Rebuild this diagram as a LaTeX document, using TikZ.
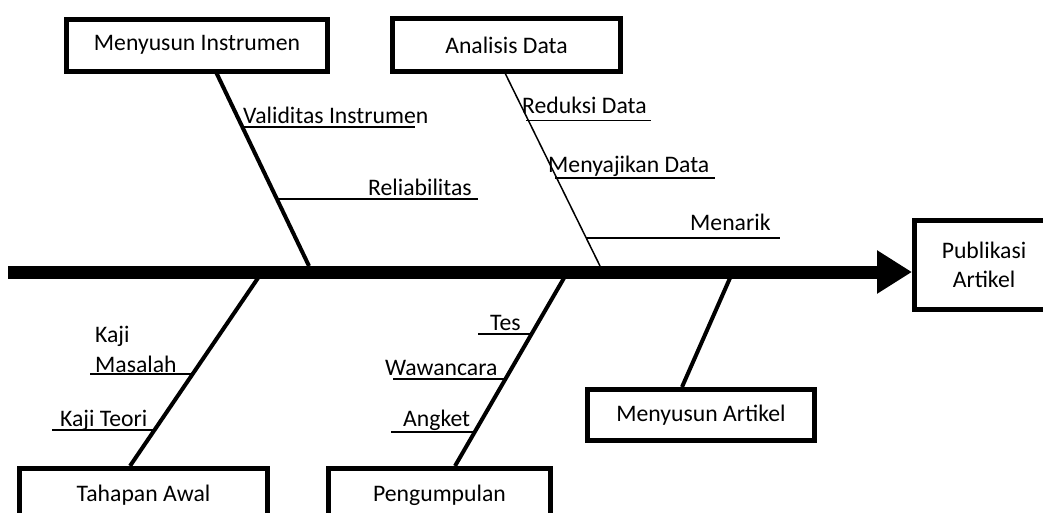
\documentclass[tikz,border=0pt]{standalone}
\usepackage{fontspec}
\setmainfont{Carlito}
\usetikzlibrary{arrows.meta, positioning, calc}
\tikzset{
x=1pt, y=-1pt,
every node/.style={font=\fontsize{23.7}{29}\selectfont},
box/.style={%
    rectangle,
    draw=black,
    line width=5pt,
    fill=white,
    inner sep=0pt,
    align=center
},
spine/.style={line width=13pt, -{Triangle[length=35pt,width=41pt]}},
bone/.style={line width=4pt},
thinbone/.style={line width=1.5pt},
twig/.style={line width=1.5pt},
lbl/.style={anchor=base west, inner sep=0pt},
}

\begin{document}
\begin{tikzpicture}
			\path[use as bounding box] (0,0) rectangle (1043,512);
			\clip (0,0) rectangle (1043,512);

			% boxes
			\node[box, minimum width=261pt, minimum height=52pt] (mi) at (197,45) {Menyusun Instrumen};
			\node[box, minimum width=228pt, minimum height=53pt] (ad) at (506.5,45) {Analisis Data};
			\node[box, minimum width=139pt, minimum height=89pt] (pa) at (984,265) {Publikasi\\Artikel};
			\node[box, minimum width=248pt, minimum height=53pt] (ta) at (143.5,495) {Tahapan Awal};
			\node[box, minimum width=222pt, minimum height=53pt] (pg) at (439.5,495) {Pengumpulan};
			\node[box, minimum width=227pt, minimum height=51pt] (ma) at (701,415) {Menyusun Artikel};

			% spine
			\coordinate (tail) at (8,272);
			\coordinate (head) at (912,272);
			\draw[spine] (tail) -- (head);

			% bones
			\coordinate (mi-b) at (216,72);   \coordinate (s1) at (309,266);
			\coordinate (ad-b) at (505,73);   \coordinate (s2) at (600,266);
			\coordinate (ta-b) at (130,466);  \coordinate (s3) at (258,278);
			\coordinate (pg-b) at (455,466);  \coordinate (s4) at (564,278);
			\coordinate (ma-b) at (682,387);  \coordinate (s5) at (730,278);
			\draw[bone] (mi-b) -- (s1);
			\draw[thinbone] (ad-b) -- (s2);
			\draw[bone] (ta-b) -- (s3);
			\draw[bone] (pg-b) -- (s4);
			\draw[bone] (ma-b) -- (s5);

			% twigs
			\coordinate (v0) at (242.5,127);  \coordinate (v1) at (415,127);
			\coordinate (r0) at (277,199);    \coordinate (r1) at (478,199);
			\coordinate (rd0) at (526,120.5); \coordinate (rd1) at (651,120.5);
			\coordinate (md0) at (555,178);   \coordinate (md1) at (715,178);
			\coordinate (mn0) at (586,238);   \coordinate (mn1) at (780,238);
			\coordinate (km0) at (90,374);    \coordinate (km1) at (192.5,374);
			\coordinate (kt0) at (52,430);    \coordinate (kt1) at (154.5,430);
			\coordinate (ts0) at (478,334);   \coordinate (ts1) at (531.5,334);
			\coordinate (ww0) at (393,379);   \coordinate (ww1) at (505,379);
			\coordinate (ak0) at (391,432);   \coordinate (ak1) at (474.5,432);
			\foreach \a/\b in {v0/v1, r0/r1, rd0/rd1, md0/md1, mn0/mn1,
				km0/km1, kt0/kt1, ts0/ts1, ww0/ww1, ak0/ak1}
				\draw[twig] (\a) -- (\b);

			% labels
			\node[lbl] (val) at (243,123) {Validitas Instrumen};
			\node[lbl] (rel) at (368,195) {Reliabilitas};
			\node[lbl] (red) at (522,113) {Reduksi Data};
			\node[lbl] (saj) at (548,172) {Menyajikan Data};
			\node[lbl] (tar) at (690,230) {Menarik};
			\node[lbl] (kaji) at (95,342) {Kaji};
			\node[lbl] (mas) at (95,372) {Masalah};
			\node[lbl] (teo) at (60,426) {Kaji Teori};
			\node[lbl] (tes) at (490,330) {Tes};
			\node[lbl] (waw) at (385,375) {Wawancara};
			\node[lbl] (ang) at (403,426) {Angket};
		\end{tikzpicture}
\end{document}
